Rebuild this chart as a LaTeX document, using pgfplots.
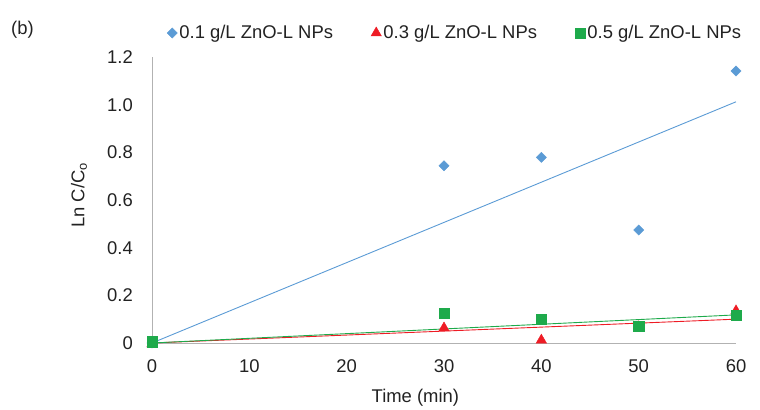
\documentclass[border=0pt]{standalone}
\usepackage{fontspec}
\setmainfont{Liberation Sans}
\usepackage{pgfplots}
\pgfplotsset{compat=1.18}
\definecolor{cblue}{HTML}{5B9BD5}
\definecolor{cred}{HTML}{EE1C25}
\definecolor{cgreen}{HTML}{1EAA4B}
\definecolor{txt}{HTML}{222222}
\begin{document}
\begin{tikzpicture}[x=1bp,y=1bp]
\useasboundingbox (0,0) rectangle (760,409);
\node[anchor=west, font=\fontsize{18.5}{22}\selectfont, inner sep=0, text=txt] at (11,379.5) {(b)};
\begin{axis}[
  at={(152bp,66bp)}, anchor=south west,
  scale only axis, width=584bp, height=286bp,
  xmin=0, xmax=60, ymin=0, ymax=1.2,
  axis lines*=left,
  axis line style={draw=black!30, line width=0.8bp},
  major tick length=0pt,
  clip=false,
  xtick={0,10,20,30,40,50,60},
  ytick={0,0.2,0.4,0.6,0.8,1.0,1.2},
  yticklabels={0,0.2,0.4,0.6,0.8,1.0,1.2},
  /pgf/number format/assume math mode=true,
  tick label style={font=\fontsize{18.5}{22}\selectfont, text=txt},
  xticklabel style={anchor=north, inner sep=0pt, yshift=-16bp},
  yticklabel style={anchor=east, inner sep=0pt, xshift=-19bp},
  xlabel={Time (min)},
  ylabel={Ln C/C\textsubscript{o}},
  label style={font=\fontsize{18.5}{22}\selectfont, text=txt},
  xlabel style={at={(axis description cs:0.451,0)}, anchor=center, yshift=-55bp},
  ylabel style={at={(axis description cs:-0.125,0.517)}, anchor=center},
  legend columns=3,
  legend style={at={(rel axis cs:0.0257,1.084)}, anchor=west, draw=none, fill=none,
    inner sep=0pt, font=\fontsize{18.5}{22}\selectfont, text=txt,
    /tikz/every even column/.append style={column sep=36bp}},
  legend image code/.code={\draw[mark repeat=2,mark phase=2,#1] plot coordinates {(0bp,0bp) (3.5bp,0bp) (7bp,0bp)};},
]
% trendlines (linear fits through origin)
\addplot[cblue, line width=0.9bp, forget plot] coordinates {(0,0) (60,1.012)};
\addplot[cred, line width=0.9bp, forget plot] coordinates {(0,0) (60,0.100)};
\addplot[cgreen, line width=0.9bp, forget plot] coordinates {(0,0) (60,0.118)};
% data
\addplot[only marks, mark=square*, mark size=3.6bp, mark options={rotate=45, fill=cblue, draw=cblue}] coordinates {
(0,0.0) (30,0.744) (40,0.779) (50,0.474) (60,1.141)};
\addlegendentry{0.1 g/L ZnO-L NPs}
\addplot[only marks, mark=triangle*, mark size=6bp, mark options={fill=cred, draw=cred}] coordinates {
(0,-0.004) (30,0.063) (40,0.012) (50,0.068) (60,0.135)};
\addlegendentry{0.3 g/L ZnO-L NPs}
\addplot[only marks, mark=square*, mark size=5.2bp, mark options={fill=cgreen, draw=cgreen}] coordinates {
(0,0.006) (30,0.126) (40,0.100) (50,0.071) (60,0.117)};
\addlegendentry{0.5 g/L ZnO-L NPs}
\end{axis}
\end{tikzpicture}
\end{document}
